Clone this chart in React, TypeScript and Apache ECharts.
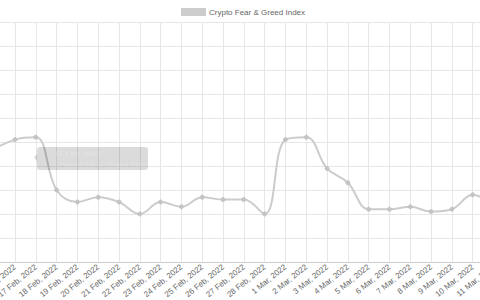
import React, { useEffect, useRef } from "react";
import * as echarts from "echarts";

const categories: string[] = [
  "15 Feb, 2022", "16 Feb, 2022", "17 Feb, 2022", "18 Feb, 2022", "19 Feb, 2022",
  "20 Feb, 2022", "21 Feb, 2022", "22 Feb, 2022", "23 Feb, 2022", "24 Feb, 2022",
  "25 Feb, 2022", "26 Feb, 2022", "27 Feb, 2022", "28 Feb, 2022", "1 Mar, 2022",
  "2 Mar, 2022", "3 Mar, 2022", "4 Mar, 2022", "5 Mar, 2022", "6 Mar, 2022",
  "7 Mar, 2022", "8 Mar, 2022", "9 Mar, 2022", "10 Mar, 2022", "11 Mar, 2022",
];

const fearGreed: number[] = [
  47, 51, 52, 30, 25, 27, 25, 20, 25, 23, 27, 26, 26, 20, 51,
  52, 39, 33, 22, 22, 23, 21, 22, 28, 24,
];

const seriesName = "Crypto Fear & Greed Index";
const tooltipTitle = "17 Feb, 2022";
const tooltipLabel = "Crypto Fear & Greed Index: 52";

const FONT = "'Liberation Sans', Arial, Helvetica, sans-serif";

export default function App() {
  const ref = useRef<HTMLDivElement>(null);

  useEffect(() => {
    if (!ref.current) return;
    const chart = echarts.init(ref.current, undefined, { renderer: "svg" });
    chart.setOption({
      animation: false,
      backgroundColor: "#ffffff",
      textStyle: { fontFamily: FONT },
      legend: {
        left: 181,
        top: 8,
        padding: 0,
        itemWidth: 25,
        itemHeight: 8,
        itemGap: 10,
        icon: "rect",
        textStyle: { fontSize: 8, color: "#666666", fontFamily: FONT, padding: [0, 0, 0, -2] },
        data: [{ name: seriesName, itemStyle: { color: "#cccccc" } }],
      },
      grid: {
        left: -5.8,
        right: -13.5,
        top: 22,
        bottom: 38,
        containLabel: false,
        outerBoundsMode: "none",
      },
      xAxis: {
        type: "category",
        data: categories,
        boundaryGap: false,
        axisLine: { show: true, lineStyle: { color: "#cccccc", width: 1 } },
        axisTick: { show: false },
        splitLine: { show: true, interval: 0, lineStyle: { color: "#e6e6e6", width: 1 } },
        axisLabel: {
          interval: 0,
          rotate: 39,
          fontSize: 8,
          color: "#666666",
          margin: 4,
          fontFamily: FONT,
        },
      },
      yAxis: {
        type: "value",
        min: 0,
        max: 100,
        interval: 10,
        axisLine: { show: false },
        axisTick: { show: false },
        axisLabel: { show: false },
        splitLine: { show: true, lineStyle: { color: "#e6e6e6", width: 1 } },
      },
      series: [
        {
          name: seriesName,
          type: "line",
          data: fearGreed,
          smooth: 0.4,
          symbol: "circle",
          symbolSize: 4,
          showSymbol: true,
          itemStyle: { color: "#c4c4c4", borderColor: "#c4c4c4" },
          lineStyle: { color: "#cccccc", width: 2 },
          z: 3,
        },
      ],
      graphic: [
        {
          type: "rect",
          z: 10,
          shape: { x: 37, y: 147, width: 111, height: 23, r: 3 },
          style: { fill: "rgba(0,0,0,0.14)" },
        },
        {
          type: "polygon",
          z: 10,
          shape: { points: [[37, 154], [34, 157.5], [37, 161]] },
          style: { fill: "rgba(0,0,0,0.14)" },
        },
        {
          type: "text",
          z: 11,
          x: 54,
          y: 149,
          style: {
            text: tooltipTitle,
            fontSize: 8,
            fontWeight: "bold",
            fontFamily: FONT,
            fill: "rgba(255,255,255,0.22)",
          },
        },
        {
          type: "text",
          z: 11,
          x: 54,
          y: 160,
          style: {
            text: tooltipLabel,
            fontSize: 8,
            fontFamily: FONT,
            fill: "rgba(255,255,255,0.22)",
          },
        },
      ],
    });
    return () => chart.dispose();
  }, []);

  return (
    <div
      ref={ref}
      style={{ position: "fixed", left: 0, top: 0, width: 480, height: 300 }}
    />
  );
}
